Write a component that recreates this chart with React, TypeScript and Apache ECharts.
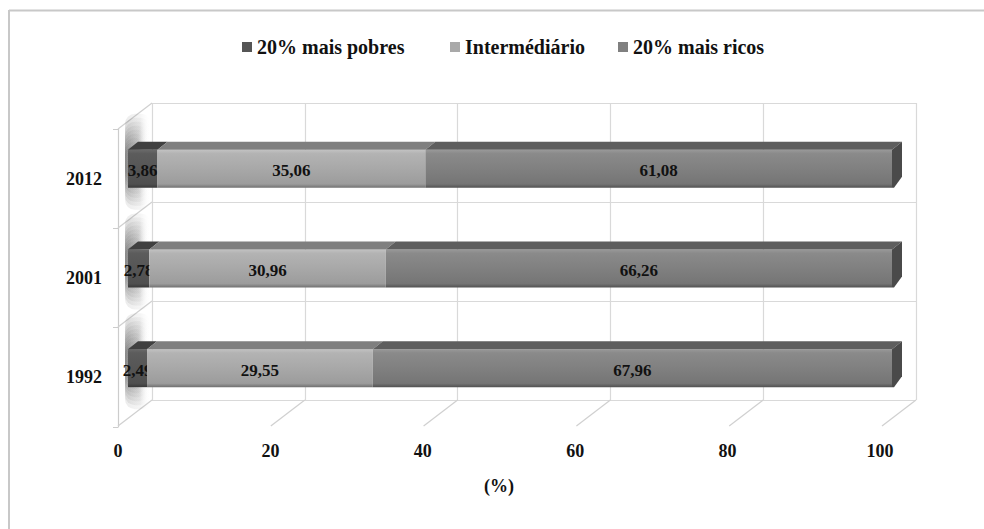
import React, { useEffect, useRef } from "react";
import * as echarts from "echarts";

const years = ["1992", "2001", "2012"];
const pobres = [2.49, 2.78, 3.86];
const intermediario = [29.55, 30.96, 35.06];
const ricos = [67.96, 66.26, 61.08];
const seriesNames = ["20% mais pobres", "Intermédiário", "20% mais ricos"];
const xTicks = [0, 20, 40, 60, 80, 100];

const FONT = "Liberation Serif";

const fmt = (v: number) => v.toFixed(2).replace(".", ",");

const lg = (stops: [number, string][], horizontal = false) => ({
  type: "linear",
  x: 0,
  y: 0,
  x2: horizontal ? 1 : 0,
  y2: horizontal ? 0 : 1,
  colorStops: stops.map(([offset, color]) => ({ offset, color })),
});

const styles = [
  {
    legend: "#555555",
    front: lg([[0, "#6a6a6a"], [0.1, "#5c5c5c"], [0.9, "#4f4f4f"], [1, "#383838"]]),
    top: "#404040",
    side: "#333333",
  },
  {
    legend: "#a9a9a9",
    front: lg([[0, "#c2c2c2"], [0.1, "#b3b3b3"], [0.5, "#a8a8a8"], [0.9, "#9c9c9c"], [1, "#707070"]]),
    top: "#7f7f7f",
    side: "#6a6a6a",
  },
  {
    legend: "#808080",
    front: lg([[0, "#999999"], [0.1, "#8a8a8a"], [0.5, "#808080"], [0.9, "#757575"], [1, "#515151"]]),
    top: "#5e5e5e",
    side: "#4a4a4a",
  },
];

export default function App() {
  const ref = useRef<HTMLDivElement>(null);

  useEffect(() => {
    if (!ref.current) return;
    const chart = echarts.init(ref.current, null, { renderer: "svg" });

    const groups = [pobres, intermediario, ricos];
    const starts = years.map(() => 0);
    const barSeries = groups.map((vals, k) => {
      const data = years.map((_, i) => {
        const s = starts[i];
        const e = s + vals[i];
        starts[i] = e;
        return [i, s, e, vals[i]];
      });
      const st = styles[k];
      const isLast = k === groups.length - 1;
      return {
        type: "custom",
        name: seriesNames[k],
        xAxisIndex: 1,
        yAxisIndex: 1,
        z: 3,
        silent: true,
        itemStyle: { color: st.legend },
        encode: { x: [1, 2], y: 0 },
        data,
        renderItem: (params: any, api: any) => {
          const ci = api.value(0);
          const s = api.value(1);
          const e = api.value(2);
          const v = api.value(3);
          const a = api.coord([s, ci]);
          const b = api.coord([e, ci]);
          const H = 38;
          const DX = 10;
          const DY = 8;
          const y0 = a[1] - H / 2;
          const children: any[] = [
            {
              type: "rect",
              shape: { x: a[0], y: y0, width: b[0] - a[0], height: H },
              style: { fill: st.front },
            },
            {
              type: "polygon",
              shape: {
                points: [
                  [a[0], y0],
                  [a[0] + DX, y0 - DY],
                  [b[0] + DX, y0 - DY],
                  [b[0], y0],
                ],
              },
              style: { fill: st.top },
            },
          ];
          if (isLast) {
            children.push({
              type: "polygon",
              shape: {
                points: [
                  [b[0], y0],
                  [b[0] + DX, y0 - DY],
                  [b[0] + DX, y0 + H - DY - 3],
                  [b[0] + 2, y0 + H],
                  [b[0], y0 + H],
                ],
              },
              style: { fill: st.side },
            });
          }
          children.push({
            type: "text",
            style: {
              text: fmt(v),
              x: (a[0] + b[0]) / 2,
              y: a[1] + 2,
              align: "center",
              verticalAlign: "middle",
              fontFamily: FONT,
              fontSize: 17,
              fontWeight: "bold",
              fill: "#111111",
            },
          });
          return { type: "group", children };
        },
      };
    });

    const shadowLayers = [
      [96, 26],
      [88, 25],
      [80, 24],
      [72, 23],
      [64, 22],
      [56, 21],
      [48, 20],
      [40, 19],
      [32, 18],
    ];
    const shadowSeries = {
      type: "custom",
      xAxisIndex: 1,
      yAxisIndex: 1,
      z: 2,
      silent: true,
      data: years.map((_, i) => [i, 0]),
      encode: { x: 1, y: 0 },
      renderItem: (params: any, api: any) => {
        const p = api.coord([0, api.value(0)]);
        const cy = p[1] - 7;
        return {
          type: "group",
          children: shadowLayers.map(([h, w]) => ({
            type: "rect",
            shape: { x: p[0] - 3, y: cy - h / 2, width: w, height: h, r: 10 },
            style: {
              fill: lg(
                [
                  [0, "rgba(60,60,60,0.1)"],
                  [0.6, "rgba(90,90,90,0.06)"],
                  [1, "rgba(255,255,255,0)"],
                ],
                true
              ),
            },
          })),
        };
      },
    };

    const floorSeries = {
      type: "custom",
      xAxisIndex: 0,
      yAxisIndex: 0,
      z: 1,
      silent: true,
      data: xTicks.map((v) => [v, 0]),
      encode: { x: 0, y: 1 },
      renderItem: (params: any, api: any) => {
        const p = api.coord([api.value(0), 0]);
        const band = api.size([0, 1])[1];
        const by = p[1] + band / 2;
        return {
          type: "line",
          shape: { x1: p[0], y1: by, x2: p[0] - 34, y2: by + 26 },
          style: { stroke: "#d0d0d0", lineWidth: 1.2 },
        };
      },
    };

    const wallSeries = {
      type: "custom",
      xAxisIndex: 0,
      yAxisIndex: 0,
      z: 1,
      silent: true,
      data: years.map((_, i) => [0, i]),
      encode: { x: 0, y: 1 },
      renderItem: (params: any, api: any) => {
        const p = api.coord([0, api.value(1)]);
        const band = api.size([0, 1])[1];
        const ty = p[1] - band / 2;
        return {
          type: "line",
          shape: { x1: p[0], y1: ty, x2: p[0] - 34, y2: ty + 26 },
          style: { stroke: "#d0d0d0", lineWidth: 1.2 },
        };
      },
    };

    const labelStyle = {
      fontFamily: FONT,
      fontWeight: "bold",
      fontSize: 18,
      color: "#111111",
    };

    const legendBase = {
      padding: 0,
      top: 37,
      itemWidth: 10,
      itemHeight: 10,
      icon: "rect",
      selectedMode: false,
      textStyle: {
        fontFamily: FONT,
        fontWeight: "bold",
        fontSize: 20,
        color: "#111111",
      },
    };

    chart.setOption({
      animation: false,
      backgroundColor: "#ffffff",
      textStyle: { fontFamily: FONT },
      legend: [
        { ...legendBase, left: 242, data: [seriesNames[0]] },
        { ...legendBase, left: 450, data: [seriesNames[1]] },
        { ...legendBase, left: 618, data: [seriesNames[2]] },
      ],
      graphic: [
        {
          type: "line",
          shape: { x1: 9, y1: 10.5, x2: 984, y2: 10.5 },
          style: { stroke: "#c8c8c8", lineWidth: 2 },
          silent: true,
        },
        {
          type: "line",
          shape: { x1: 9, y1: 10, x2: 9, y2: 529 },
          style: { stroke: "#c8c8c8", lineWidth: 2 },
          silent: true,
        },
      ],
      grid: [
        { left: 152, right: 68, top: 103, bottom: 129 },
        { left: 128, right: 92, top: 119, bottom: 111 },
        { left: 118, right: 104, top: 129, bottom: 102 },
      ],
      xAxis: [
        {
          gridIndex: 0,
          type: "value",
          min: 0,
          max: 100,
          interval: 20,
          axisLine: { show: false },
          axisTick: { show: false },
          axisLabel: { show: false },
          splitLine: { show: true, lineStyle: { color: "#d9d9d9", width: 1.2 } },
        },
        {
          gridIndex: 1,
          type: "value",
          min: 0,
          max: 100,
          show: false,
        },
        {
          gridIndex: 2,
          type: "value",
          min: 0,
          max: 100,
          interval: 20,
          axisLine: { show: false },
          axisTick: { show: false },
          splitLine: { show: false },
          axisLabel: { ...labelStyle, margin: 15 },
          name: "(%)",
          nameLocation: "middle",
          nameGap: 50,
          nameTextStyle: { ...labelStyle },
        },
      ],
      yAxis: [
        {
          gridIndex: 0,
          type: "category",
          data: years,
          axisLine: { show: false },
          axisTick: { show: false },
          axisLabel: { show: false },
          splitLine: { show: true, lineStyle: { color: "#d9d9d9", width: 1.2 } },
        },
        {
          gridIndex: 1,
          type: "category",
          data: years,
          show: false,
        },
        {
          gridIndex: 2,
          type: "category",
          data: years,
          axisLine: { show: true, lineStyle: { color: "#cccccc", width: 1.2 } },
          axisTick: { show: true, length: 5, lineStyle: { color: "#cccccc" } },
          axisLabel: { ...labelStyle, margin: 16 },
          splitLine: { show: false },
        },
      ],
      series: [floorSeries, wallSeries, shadowSeries, ...barSeries],
    });

    return () => chart.dispose();
  }, []);

  return (
    <div
      ref={ref}
      style={{ width: 984, height: 529, position: "fixed", left: 0, top: 0 }}
    />
  );
}
